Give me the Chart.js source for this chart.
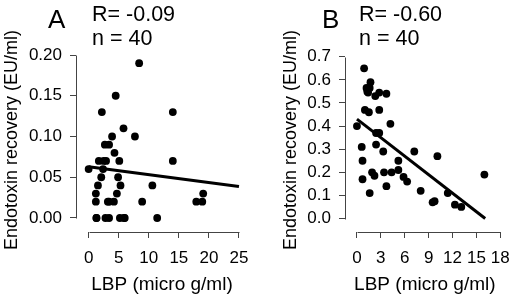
<!DOCTYPE html>
<html>
<head>
<meta charset="utf-8">
<script src="https://cdn.jsdelivr.net/npm/chart.js@4"></script>
<style>
body { margin: 0; background: #fff; }
#wrap { position: relative; width: 520px; height: 300px; font-family: "Liberation Sans", Arial, Helvetica, sans-serif; color: #000; }
#wrap canvas { position: absolute; top: 0; }
.lab { position: absolute; line-height: 1; white-space: nowrap; }
</style>
</head>
<body>
<div id="wrap">
  <canvas id="chartA" width="260" height="300" style="left:0"></canvas>
  <canvas id="chartB" width="260" height="300" style="left:260px"></canvas>
  <div class="lab" style="left:48px;top:6px;font-size:26px">A</div>
  <div class="lab" style="left:92px;top:4px;font-size:21.5px">R= -0.09</div>
  <div class="lab" style="left:92px;top:28px;font-size:21.5px">n = 40</div>
  <div class="lab" style="left:322px;top:6px;font-size:26px">B</div>
  <div class="lab" style="left:359px;top:4px;font-size:21.5px">R= -0.60</div>
  <div class="lab" style="left:359px;top:28px;font-size:21.5px">n = 40</div>
</div>
<script>
// panel A: LBP vs endotoxin recovery
var lbpA = [8.4, 4.5, 2.2, 14.0, 5.8, 7.7, 3.9, 2.7, 3.4, 4.3, 1.7, 2.9, 5.1, 14.0, 0, 2.4, 2.1, 4.9,
            1.55, 5.3, 10.6, 1.2, 4.7, 19.05, 1.2, 3.2, 4.2, 8.9, 17.9, 18.9,
            1.3, 2.8, 3.4, 5.2, 6.0, 11.4, 2.5, 3.4, 1.3, 5.9];
var recA = [0.19, 0.15, 0.13, 0.13, 0.11, 0.10, 0.10, 0.09, 0.09, 0.08, 0.07, 0.07, 0.07, 0.07, 0.06, 0.06, 0.05, 0.05,
            0.04, 0.04, 0.04, 0.03, 0.03, 0.03, 0.02, 0.02, 0.02, 0.02, 0.02, 0.02,
            0, 0, 0, 0, 0, 0, 0.07, 0.02, 0, 0];
var fitXA = [0, 25];
var fitYA = [0.063, 0.0385];
var xTicksA = [0, 5, 10, 15, 20, 25];
var xLabelsA = ['0', '5', '10', '15', '20', '25'];
var yTicksA = [0, 0.05, 0.10, 0.15, 0.20];
var yLabelsA = ['0.00', '0.05', '0.10', '0.15', '0.20'];

// panel B
var lbpB = [0.9, 1.7, 1.2, 1.6, 1.4, 2.3, 2.8, 3.7, 1.0, 1.5, 2.8, 0, 4.2, 2.4, 2.8, 0.6, 2.4, 3.3, 7.2, 10.1,
            0.7, 5.2, 5.2, 1.9, 2.2, 3.4, 4.35, 5.85, 6.3, 0.7, 3.7, 1.6, 8.0, 9.5, 9.75, 11.4, 12.3, 13.1, 16.0, 1.3];
var recB = [0.65, 0.59, 0.565, 0.565, 0.545, 0.53, 0.545, 0.54, 0.47, 0.46, 0.47, 0.40, 0.41, 0.37, 0.37, 0.31, 0.32, 0.29, 0.29, 0.27,
            0.25, 0.25, 0.21, 0.20, 0.185, 0.20, 0.20, 0.18, 0.16, 0.17, 0.14, 0.11, 0.12, 0.07, 0.075, 0.11, 0.06, 0.05, 0.19, 0.55];
var fitXB = [0, 16.1];
var fitYB = [0.43, 0.0];
var xTicksB = [0, 3, 6, 9, 12, 15, 18];
var xLabelsB = ['0', '3', '6', '9', '12', '15', '18'];
var yTicksB = [0, 0.1, 0.2, 0.3, 0.4, 0.5, 0.6, 0.7];
var yLabelsB = ['0.0', '0.1', '0.2', '0.3', '0.4', '0.5', '0.6', '0.7'];

Chart.defaults.font.family = '"Liberation Sans", Arial, Helvetica, sans-serif';
Chart.defaults.color = '#000';

var axisColor = '#444';

// R style axis lines, only between first and last tick
var axisLines = {
  id: 'axisLines',
  afterDraw: function(chart) {
    var ctx = chart.ctx, a = chart.chartArea;
    var xs = chart.scales.x, ys = chart.scales.y;
    var xt = xs.ticks, yt = ys.ticks;
    ctx.save();
    ctx.strokeStyle = axisColor;
    ctx.lineWidth = 1;
    ctx.beginPath();
    ctx.moveTo(Math.round(xs.getPixelForValue(xt[0].value)) + 0.5, Math.round(a.bottom) + 0.5);
    ctx.lineTo(Math.round(xs.getPixelForValue(xt[xt.length - 1].value)) + 0.5, Math.round(a.bottom) + 0.5);
    ctx.moveTo(Math.round(a.left) + 0.5, Math.round(ys.getPixelForValue(yt[0].value)) + 0.5);
    ctx.lineTo(Math.round(a.left) + 0.5, Math.round(ys.getPixelForValue(yt[yt.length - 1].value)) + 0.5);
    ctx.stroke();
    ctx.restore();
  }
};

function makePanel(id, p) {
  var pts = p.x.map(function(v, i) { return {x: v, y: p.y[i]}; });
  var fit = p.fitX.map(function(v, i) { return {x: v, y: p.fitY[i]}; });
  return new Chart(id, {
    data: {
      datasets: [
        {type: 'scatter', data: pts, backgroundColor: '#000', borderWidth: 0, pointRadius: 3.9, pointHoverRadius: 3.9},
        {type: 'line', data: fit, borderColor: '#000', borderWidth: 3, pointRadius: 0, fill: false}
      ]
    },
    options: {
      responsive: false,
      animation: false,
      events: [],
      layout: {padding: {top: 48, right: p.padRight, left: 0, bottom: 0}},
      plugins: {legend: {display: false}, tooltip: {enabled: false}},
      scales: {
        x: {
          type: 'linear', min: p.xMin, max: p.xMax,
          afterBuildTicks: function(s) { s.ticks = p.xTicks.map(function(v) { return {value: v}; }); },
          afterFit: function(s) { s.height = 68; },
          grid: {drawOnChartArea: false, drawTicks: true, tickLength: 6, color: axisColor},
          border: {display: false},
          ticks: {autoSkip: false, maxRotation: 0, padding: 10, font: {size: 17},
                  callback: function(v, i) { return p.xLabels[i]; }},
          title: {display: true, text: 'LBP (micro g/ml)', font: {size: 19}, padding: {top: 0, bottom: 4}}
        },
        y: {
          type: 'linear', min: p.yMin, max: p.yMax,
          afterBuildTicks: function(s) { s.ticks = p.yTicks.map(function(v) { return {value: v}; }); },
          afterFit: function(s) { s.width = p.yWidth; },
          grid: {drawOnChartArea: false, drawTicks: true, tickLength: 6, color: axisColor},
          border: {display: false},
          ticks: {autoSkip: false, padding: 8, font: {size: 17},
                  callback: function(v, i) { return p.yLabels[i]; }},
          title: {display: true, text: 'Endotoxin recovery (EU/ml)', font: {size: 18}, padding: {top: p.titlePad, bottom: 0}}
        }
      }
    },
    plugins: [axisLines]
  });
}

makePanel('chartA', {
  x: lbpA, y: recA, fitX: fitXA, fitY: fitYA,
  xTicks: xTicksA, xLabels: xLabelsA, yTicks: yTicksA, yLabels: yLabelsA,
  xMin: -2.1, xMax: 26.5, yMin: -0.0172, yMax: 0.2086,
  yWidth: 76, padRight: 12, titlePad: 1
});

makePanel('chartB', {
  x: lbpB, y: recB, fitX: fitXB, fitY: fitYB,
  xTicks: xTicksB, xLabels: xLabelsB, yTicks: yTicksB, yLabels: yLabelsB,
  xMin: -1.5, xMax: 18.55, yMin: -0.0584, yMax: 0.738,
  yWidth: 85, padRight: 8, titlePad: 20
});
</script>
</body>
</html>
